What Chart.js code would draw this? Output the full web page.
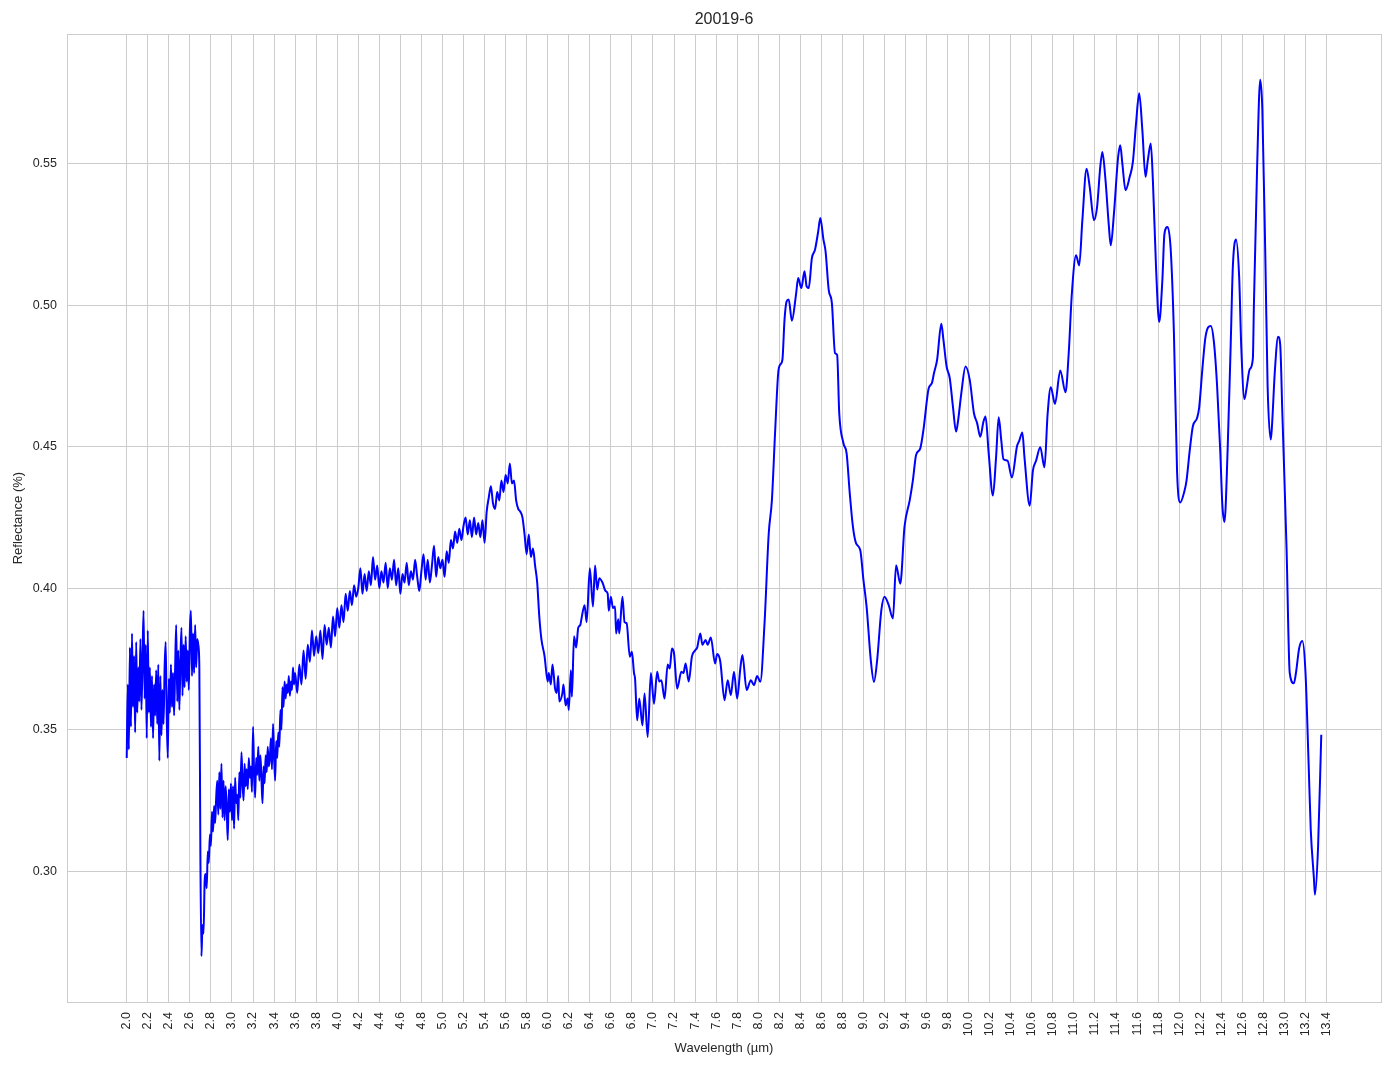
<!DOCTYPE html>
<html>
<head>
<meta charset="utf-8">
<script src="https://cdn.jsdelivr.net/npm/chart.js@4.4.1/dist/chart.umd.min.js"></script>
<style>
  html, body { margin: 0; padding: 0; background: #fff; }
  #wrap { width: 1394px; height: 1069px; }
</style>
</head>
<body>
<div id="wrap"><canvas id="chart"></canvas></div>
<script>
// noisy start of the spectrum, 2.00 - 2.69 um
const wlA = [2.00,2.01,2.02,2.03,2.04,2.05,2.06,2.07,2.08,2.09,
  2.10,2.11,2.12,2.13,2.14,2.15,2.16,2.17,2.18,2.19,
  2.20,2.21,2.22,2.23,2.24,2.25,2.26,2.27,2.28,2.29,
  2.30,2.31,2.32,2.33,2.34,2.35,2.36,2.37,2.38,2.39,
  2.40,2.41,2.42,2.43,2.44,2.45,2.46,2.47,2.48,2.49,
  2.50,2.51,2.52,2.53,2.54,2.55,2.56,2.57,2.58,2.59,
  2.60,2.61,2.62,2.63,2.64,2.65,2.66,2.67,2.68,2.69];
const reflA = [0.340,0.366,0.343,0.379,0.351,0.384,0.358,0.376,0.349,0.381,
  0.356,0.372,0.360,0.382,0.357,0.375,0.392,0.361,0.380,0.347,
  0.385,0.356,0.372,0.351,0.369,0.347,0.366,0.355,0.371,0.352,
  0.373,0.339,0.369,0.348,0.364,0.352,0.372,0.381,0.355,0.340,
  0.368,0.356,0.373,0.358,0.370,0.355,0.372,0.387,0.360,0.378,
  0.357,0.374,0.386,0.362,0.380,0.365,0.383,0.367,0.378,0.364,
  0.385,0.392,0.369,0.384,0.370,0.387,0.372,0.382,0.380,0.372];

// drop and noisy rise, 2.70 - 3.60 um
const wlB = [2.70,2.71,2.72,2.73,2.74,2.75,2.76,2.77,2.78,2.79,
  2.80,2.81,2.82,2.83,2.84,2.85,2.86,2.87,2.88,2.89,
  2.90,2.91,2.92,2.93,2.94,2.95,2.96,2.97,2.98,2.99,
  3.00,3.01,3.02,3.03,3.04,3.05,3.06,3.07,3.08,3.09,
  3.10,3.11,3.12,3.13,3.14,3.15,3.16,3.17,3.18,3.19,
  3.20,3.21,3.22,3.23,3.24,3.25,3.26,3.27,3.28,3.29,
  3.30,3.31,3.32,3.33,3.34,3.35,3.36,3.37,3.38,3.39,
  3.40,3.41,3.42,3.43,3.44,3.45,3.46,3.47,3.48,3.49,
  3.50,3.51,3.52,3.53,3.54,3.55,3.56,3.57,3.58,3.59,
  3.60];
const reflB = [0.305,0.270,0.281,0.278,0.296,0.299,0.294,0.307,0.303,0.313,
  0.309,0.321,0.314,0.323,0.317,0.326,0.332,0.320,0.335,0.322,
  0.338,0.319,0.332,0.318,0.330,0.322,0.311,0.329,0.321,0.331,
  0.318,0.330,0.315,0.333,0.324,0.327,0.318,0.335,0.326,0.342,
  0.332,0.325,0.338,0.330,0.336,0.329,0.340,0.333,0.337,0.328,
  0.351,0.335,0.326,0.340,0.334,0.344,0.332,0.341,0.333,0.324,
  0.337,0.331,0.341,0.335,0.344,0.337,0.340,0.347,0.336,0.352,
  0.341,0.332,0.346,0.340,0.349,0.344,0.357,0.350,0.365,0.358,
  0.367,0.361,0.366,0.363,0.369,0.362,0.367,0.364,0.372,0.366,
  0.370];

// slow climb to the 5.6 um maximum, 3.62 - 5.90 um
const wlC = [3.62,3.64,3.66,3.68,3.70,3.72,3.74,3.76,3.78,3.80,
  3.82,3.84,3.86,3.88,3.90,3.92,3.94,3.96,3.98,4.00,
  4.02,4.04,4.06,4.08,4.10,4.12,4.14,4.16,4.18,4.20,
  4.22,4.24,4.26,4.28,4.30,4.32,4.34,4.36,4.38,4.40,
  4.42,4.44,4.46,4.48,4.50,4.52,4.54,4.56,4.58,4.60,
  4.62,4.64,4.66,4.68,4.70,4.72,4.74,4.76,4.78,4.80,
  4.82,4.84,4.86,4.88,4.90,4.92,4.94,4.96,4.98,5.00,
  5.02,5.04,5.06,5.08,5.10,5.12,5.14,5.16,5.18,5.20,
  5.22,5.24,5.26,5.28,5.30,5.32,5.34,5.36,5.38,5.40,
  5.42,5.44,5.46,5.48,5.50,5.52,5.54,5.56,5.58,5.60,
  5.62,5.64,5.66,5.68,5.70,5.72,5.74,5.76,5.78,5.80,
  5.82,5.84,5.86,5.88,5.90];
const reflC = [0.363,0.373,0.366,0.378,0.368,0.380,0.374,0.385,0.376,0.383,
  0.377,0.385,0.375,0.387,0.380,0.386,0.379,0.390,0.383,0.393,
  0.386,0.394,0.388,0.398,0.392,0.399,0.394,0.401,0.397,0.400,
  0.407,0.398,0.405,0.399,0.406,0.401,0.411,0.403,0.408,0.400,
  0.406,0.402,0.409,0.400,0.407,0.403,0.410,0.401,0.407,0.398,
  0.405,0.402,0.409,0.401,0.406,0.403,0.410,0.404,0.399,0.406,
  0.412,0.403,0.410,0.402,0.408,0.415,0.404,0.411,0.407,0.410,
  0.404,0.413,0.409,0.417,0.414,0.420,0.416,0.421,0.417,0.422,
  0.425,0.419,0.424,0.418,0.425,0.419,0.423,0.418,0.424,0.416,
  0.427,0.432,0.436,0.430,0.428,0.434,0.431,0.438,0.434,0.440,
  0.437,0.444,0.437,0.438,0.431,0.428,0.427,0.425,0.419,0.412,
  0.419,0.411,0.414,0.408,0.402];

// smoother long-wave part, 5.92 - 13.35 um
const wlD = [5.92,5.94,5.97,6.00,6.01,6.03,6.045,6.07,6.085,6.10,
  6.11,6.14,6.15,6.17,6.19,6.20,6.22,6.23,6.25,6.27,
  6.29,6.31,6.32,6.35,6.37,6.40,6.43,6.45,6.47,6.49,
  6.52,6.55,6.57,6.58,6.60,6.62,6.64,6.65,6.67,6.68,
  6.71,6.73,6.75,6.78,6.80,6.82,6.83,6.85,6.87,6.90,
  6.92,6.95,6.98,7.01,7.04,7.06,7.08,7.11,7.14,7.16,
  7.18,7.20,7.23,7.27,7.29,7.31,7.34,7.37,7.40,7.42,
  7.45,7.47,7.50,7.52,7.55,7.59,7.61,7.64,7.68,7.71,
  7.74,7.77,7.80,7.83,7.85,7.89,7.93,7.96,7.99,8.02,
  8.06,8.10,8.13,8.16,8.19,8.21,8.23,8.25,8.27,8.29,
  8.32,8.36,8.38,8.41,8.44,8.46,8.48,8.51,8.54,8.57,
  8.59,8.62,8.64,8.67,8.70,8.73,8.75,8.77,8.81,8.84,
  8.87,8.90,8.93,8.97,9.00,9.03,9.07,9.10,9.13,9.17,
  9.20,9.24,9.28,9.31,9.35,9.39,9.44,9.47,9.50,9.54,
  9.57,9.62,9.65,9.67,9.70,9.74,9.76,9.79,9.82,9.85,
  9.88,9.90,9.93,9.97,10.01,10.05,10.08,10.11,10.14,10.16,
  10.19,10.23,10.26,10.285,10.31,10.33,10.37,10.41,10.46,10.48,
  10.51,10.53,10.58,10.61,10.64,10.68,10.72,10.75,10.78,10.82,
  10.87,10.92,10.95,10.98,11.02,11.05,11.08,11.12,11.15,11.19,
  11.22,11.25,11.27,11.30,11.33,11.35,11.38,11.42,11.44,11.46,
  11.49,11.53,11.56,11.59,11.62,11.65,11.68,11.70,11.73,11.75,
  11.78,11.81,11.84,11.86,11.89,11.92,11.95,11.98,12.01,12.05,
  12.07,12.10,12.13,12.17,12.19,12.22,12.25,12.30,12.33,12.36,
  12.39,12.41,12.43,12.46,12.49,12.51,12.54,12.57,12.59,12.62,
  12.64,12.67,12.70,12.71,12.74,12.77,12.79,12.82,12.84,12.87,
  12.88,12.91,12.94,12.96,12.98,13.02,13.05,13.09,13.11,13.14,
  13.17,13.20,13.23,13.25,13.28,13.29,13.32,13.35];
const reflD = [0.390,0.382,0.376,0.367,0.370,0.366,0.373,0.3645,0.363,0.369,
  0.360,0.363,0.366,0.3586,0.361,0.357,0.371,0.3616,0.383,0.379,
  0.386,0.387,0.389,0.394,0.388,0.407,0.3935,0.408,0.3995,0.4035,
  0.402,0.399,0.398,0.392,0.397,0.393,0.3935,0.384,0.389,0.384,
  0.397,0.388,0.3876,0.3758,0.3775,0.370,0.368,0.3533,0.361,0.3515,
  0.3628,0.3474,0.370,0.3592,0.3705,0.367,0.3675,0.361,0.373,0.3716,
  0.3787,0.377,0.3645,0.3705,0.370,0.3734,0.367,0.3758,0.378,0.379,
  0.384,0.380,0.3817,0.380,0.3826,0.3734,0.3767,0.374,0.3604,0.3675,
  0.3622,0.3705,0.361,0.3716,0.3764,0.364,0.3675,0.3657,0.369,0.3669,
  0.3875,0.4193,0.431,0.4547,0.476,0.479,0.4807,0.4948,0.5013,0.502,
  0.4945,0.504,0.5096,0.506,0.512,0.5066,0.506,0.5166,0.5196,0.526,
  0.5308,0.5231,0.519,0.5054,0.5007,0.483,0.4824,0.4618,0.4512,0.4476,
  0.4335,0.4217,0.4158,0.4134,0.4028,0.3934,0.3745,0.3669,0.3745,0.3922,
  0.397,0.394,0.3893,0.4081,0.4016,0.4217,0.4311,0.4382,0.447,0.4494,
  0.4559,0.4706,0.4724,0.4759,0.4807,0.4934,0.4877,0.4783,0.4742,0.4642,
  0.4553,0.4594,0.4689,0.4783,0.4736,0.4618,0.4583,0.4535,0.4588,0.4606,
  0.4476,0.4327,0.4462,0.4604,0.452,0.4456,0.445,0.4391,0.4503,0.452,
  0.455,0.4462,0.4291,0.4415,0.445,0.4498,0.4427,0.4616,0.471,0.4651,
  0.4769,0.4692,0.4828,0.504,0.5176,0.514,0.53,0.5482,0.5417,0.53,
  0.5347,0.5488,0.5541,0.5441,0.5288,0.5211,0.5323,0.5524,0.5565,0.55,
  0.5406,0.5453,0.5506,0.5642,0.5748,0.5618,0.5453,0.5506,0.5571,0.5441,
  0.5134,0.494,0.5087,0.5252,0.5276,0.5193,0.490,0.441,0.4303,0.4343,
  0.4381,0.4486,0.4572,0.4601,0.4639,0.4773,0.4888,0.4926,0.4869,0.4716,
  0.4486,0.4295,0.4234,0.4486,0.4869,0.5137,0.5232,0.5098,0.485,0.4668,
  0.4706,0.4773,0.4811,0.5003,0.5481,0.5796,0.5691,0.5137,0.4716,0.4525,
  0.4563,0.4773,0.4888,0.4859,0.462,0.4142,0.3702,0.3664,0.3702,0.3788,
  0.3813,0.3702,0.3377,0.3147,0.2975,0.2917,0.309,0.3482];

const xTicks = [2.0,2.2,2.4,2.6,2.8,3.0,3.2,3.4,3.6,3.8,4.0,4.2,4.4,4.6,4.8,5.0,
  5.2,5.4,5.6,5.8,6.0,6.2,6.4,6.6,6.8,7.0,7.2,7.4,7.6,7.8,8.0,8.2,8.4,8.6,8.8,
  9.0,9.2,9.4,9.6,9.8,10.0,10.2,10.4,10.6,10.8,11.0,11.2,11.4,11.6,11.8,12.0,
  12.2,12.4,12.6,12.8,13.0,13.2,13.4];
const yTicks = [0.30,0.35,0.40,0.45,0.50,0.55];

const wl = [...wlA, ...wlB, ...wlC, ...wlD];
const refl = [...reflA, ...reflB, ...reflC, ...reflD];
const points = wl.map((x, i) => ({ x: x, y: refl[i] }));

const textColor = "#262626";
const gridColor = "#cccccc";

// matplotlib draws the spine on all four sides
const frame = {
  id: "frame",
  afterDraw(chart) {
    const { ctx, chartArea: a } = chart;
    ctx.save();
    ctx.strokeStyle = gridColor;
    ctx.lineWidth = 1;
    ctx.strokeRect(Math.round(a.left) + 0.5, Math.round(a.top) + 0.5,
      Math.round(a.right - a.left), Math.round(a.bottom - a.top));
    ctx.restore();
  }
};

new Chart(document.getElementById("chart"), {
  type: "line",
  data: {
    datasets: [{
      label: "20019-6",
      data: points,
      borderColor: "#0000ff",
      borderWidth: 2,
      pointRadius: 0,
      fill: false,
      cubicInterpolationMode: "monotone"
    }]
  },
  options: {
    responsive: true,
    maintainAspectRatio: false,
    animation: false,
    layout: { padding: { left: 0, right: 13, top: 0, bottom: 0 } },
    plugins: {
      legend: { display: false },
      tooltip: { enabled: false },
      title: {
        display: true,
        fullSize: false,
        text: "20019-6",
        color: textColor,
        font: { family: "Liberation Sans, Arial, sans-serif", size: 16, weight: "normal", lineHeight: 1.2 },
        padding: { top: 10, bottom: 5 }
      }
    },
    scales: {
      x: {
        type: "linear",
        min: 1.4325,
        max: 13.9175,
        afterBuildTicks: (s) => { s.ticks = xTicks.map(v => ({ value: v })); },
        afterFit: (s) => { s.height = 67; },
        grid: { color: gridColor, drawTicks: false },
        border: { color: gridColor },
        ticks: {
          autoSkip: false,
          minRotation: 90,
          maxRotation: 90,
          padding: 10,
          color: textColor,
          font: { family: "Liberation Sans, Arial, sans-serif", size: 12.5 },
          callback: (v) => Number(v).toFixed(1)
        },
        title: {
          display: true,
          text: "Wavelength (µm)",
          color: textColor,
          font: { family: "Liberation Sans, Arial, sans-serif", size: 13 },
          padding: { top: 0, bottom: 13 }
        }
      },
      y: {
        type: "linear",
        min: 0.2538,
        max: 0.5957,
        afterBuildTicks: (s) => { s.ticks = yTicks.map(v => ({ value: v })); },
        afterFit: (s) => { s.width = 67; },
        grid: { color: gridColor, drawTicks: false },
        border: { color: gridColor },
        ticks: {
          padding: 10,
          color: textColor,
          font: { family: "Liberation Sans, Arial, sans-serif", size: 12.5 },
          callback: (v) => Number(v).toFixed(2)
        },
        title: {
          display: true,
          text: "Reflectance (%)",
          color: textColor,
          font: { family: "Liberation Sans, Arial, sans-serif", size: 13 },
          padding: { top: 11, bottom: 0 }
        }
      }
    }
  },
  plugins: [frame]
});
</script>
</body>
</html>
